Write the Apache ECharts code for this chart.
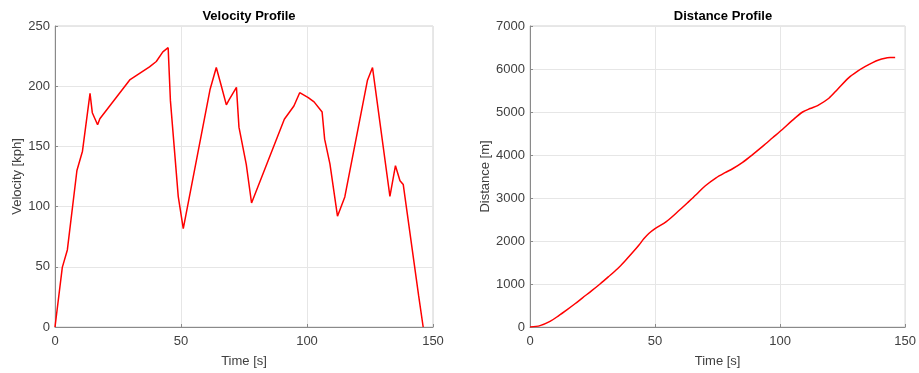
<!DOCTYPE html>
<html>
<head>
<meta charset="utf-8">
<script src="https://cdn.jsdelivr.net/npm/echarts@6/dist/echarts.min.js"></script>
<style>
html,body{margin:0;padding:0;background:#fff;}
#chart{width:919px;height:373px;}
</style>
</head>
<body>
<div id="chart"></div>
<script>
// Velocity profile (time [s], velocity [kph])
var velTime = [0, 2.9, 4.9, 8.7, 10.9, 13.9, 14.8, 16.9, 17.8, 29.8, 37.5, 40.2, 42.8, 44.9, 45.8, 48.9, 50.9, 61.5, 64, 65.9, 68, 69, 72, 73, 75.9, 78, 91, 94.8, 97.1, 100.5, 102.8, 106, 107, 109.1, 112.1, 115, 124, 126, 132.9, 135.1, 136.9, 138.2, 139.9, 144.3, 146.1];
var velKph = [0, 49.5, 64, 130, 146, 194, 178, 168, 173, 205.5, 216, 220.5, 228.5, 232, 188, 108.5, 81.7, 197, 215.5, 201, 184.5, 188.5, 199, 166, 135, 103, 172.6, 183.6, 194.6, 190.5, 187, 178.5, 156, 135.5, 92, 108, 205, 215.5, 108.5, 134, 121.5, 118.3, 92.5, 26, 0];

// Distance profile (time [s], distance [m])
var distTime = [0, 4, 8, 11.4, 15, 18, 21, 24.7, 28, 31.3, 35, 37.9, 41, 43.5, 45.5, 47.5, 50, 54.5, 59.8, 63, 66.5, 70, 74.4, 78, 81, 85, 89, 93, 97, 101, 105, 109, 112, 115, 119.5, 123, 127.5, 131, 134.1, 137, 139.4, 142, 144, 146];
var distM = [0, 32, 130, 260, 410, 540, 678, 845, 1000, 1165, 1355, 1530, 1730, 1900, 2050, 2175, 2290, 2450, 2720, 2890, 3080, 3280, 3470, 3590, 3680, 3830, 4010, 4200, 4400, 4600, 4810, 5000, 5080, 5150, 5320, 5530, 5800, 5950, 6060, 6150, 6210, 6250, 6265, 6270];

var titles = ['Velocity Profile', 'Distance Profile'];
var xNames = ['Time [s]', 'Time [s]'];
var yNames = ['Velocity [kph]', 'Distance [m]'];

function zip(a, b) { return a.map(function (v, i) { return [v, b[i]]; }); }

var FONT = '"Liberation Sans", Arial, sans-serif';
var labelStyle = { color: '#404040', fontSize: 13, fontFamily: FONT, formatter: function (v) { return String(v); } };

function xAxis(gi) {
  return {
    type: 'value', gridIndex: gi, min: 0, max: 150, interval: 50,
    name: xNames[gi], nameLocation: 'middle', nameGap: 28,
    nameTextStyle: { color: '#404040', fontSize: 13, fontFamily: FONT },
    axisLine: { show: true, lineStyle: { color: '#8a8a8a', width: 1 } },
    axisTick: { show: true, inside: true, length: 3, lineStyle: { color: '#8a8a8a' } },
    axisLabel: Object.assign({ margin: 8 }, labelStyle),
    splitLine: { show: true, lineStyle: { color: '#e6e6e6', width: 1 } }
  };
}
function yAxis(gi, max, interval, gap) {
  return {
    type: 'value', gridIndex: gi, min: 0, max: max, interval: interval,
    name: yNames[gi], nameLocation: 'middle', nameGap: gap, nameRotate: 90,
    nameTextStyle: { color: '#404040', fontSize: 13, fontFamily: FONT },
    axisLine: { show: true, lineStyle: { color: '#8a8a8a', width: 1 } },
    axisTick: { show: true, inside: true, length: 3, lineStyle: { color: '#8a8a8a' } },
    axisLabel: Object.assign({ margin: 5 }, labelStyle),
    splitLine: { show: true, lineStyle: { color: '#e6e6e6', width: 1 } }
  };
}

var chart = echarts.init(document.getElementById('chart'), null, { renderer: 'canvas' });
chart.setOption({
  backgroundColor: '#ffffff',
  animation: false,
  title: [
    { text: titles[0], left: 244, top: 5, textAlign: 'center',
      textStyle: { fontSize: 13, fontWeight: 'bold', color: '#000', fontFamily: FONT } },
    { text: titles[1], left: 718, top: 5, textAlign: 'center',
      textStyle: { fontSize: 13, fontWeight: 'bold', color: '#000', fontFamily: FONT } }
  ],
  grid: [
    { left: 55, top: 26, width: 378, height: 302, show: true, borderColor: '#d0d0d0', borderWidth: 1, backgroundColor: 'transparent' },
    { left: 530, top: 26, width: 377, height: 302, show: true, borderColor: '#d0d0d0', borderWidth: 1, backgroundColor: 'transparent' }
  ],
  xAxis: [xAxis(0), xAxis(1)],
  yAxis: [yAxis(0, 250, 50, 28), yAxis(1, 7000, 1000, 38)],
  series: [
    { type: 'line', xAxisIndex: 0, yAxisIndex: 0, data: zip(velTime, velKph),
      showSymbol: false, lineStyle: { color: '#ff0000', width: 1.5 }, itemStyle: { color: '#ff0000' } },
    { type: 'line', xAxisIndex: 1, yAxisIndex: 1, data: zip(distTime, distM), smooth: 0.3,
      showSymbol: false, lineStyle: { color: '#ff0000', width: 1.5 }, itemStyle: { color: '#ff0000' } }
  ]
});
</script>
</body>
</html>
